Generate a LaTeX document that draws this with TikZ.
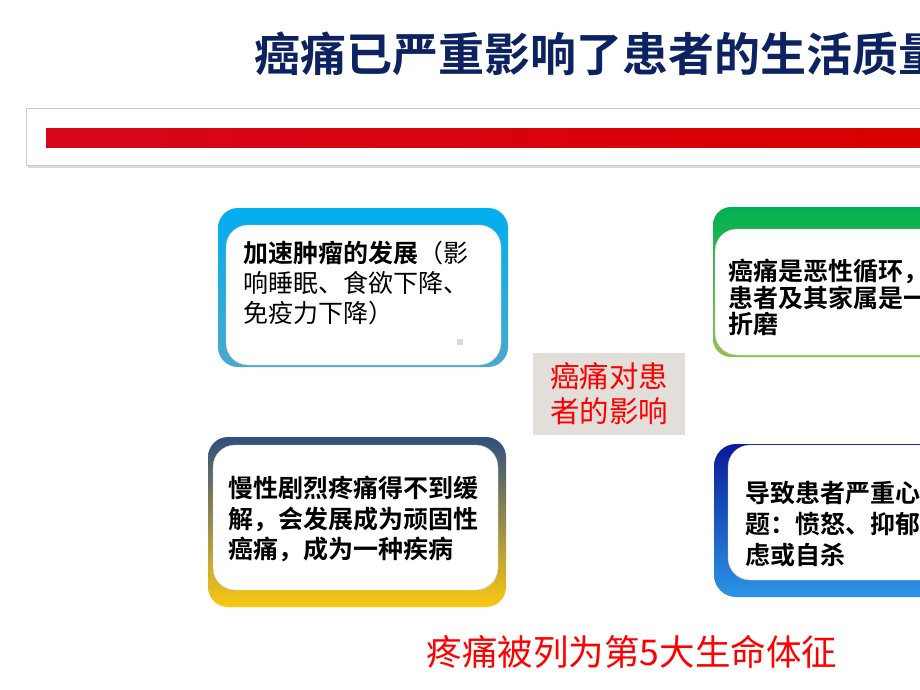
\documentclass[tikz,border=0pt]{standalone}
\usepackage{fontspec}
\setmainfont{Noto Sans CJK SC}[BoldFont={Noto Sans CJK SC Bold}]
\definecolor{titleblue}{HTML}{0D2361}
\definecolor{barred}{HTML}{D6061A}
\definecolor{labelgray}{HTML}{E2DED9}

\begin{document}
\begin{tikzpicture}[x=1pt,y=-1pt,
    boxtext/.style={anchor=north west, align=left, inner sep=0pt},
    card/.style={fill=white, draw=gray!45, rounded corners=22}]
    \useasboundingbox (0,0) rectangle (920,690);
    \clip (0,0) rectangle (920,690);

    % title and red bar
    \node[anchor=west, inner sep=0pt, text=titleblue, font=\fontsize{46}{50}\bfseries\selectfont] (title) at (254,54) {癌痛已严重影响了患者的生活质量};
    \fill[gray!30] (28,111) rectangle (930,168);
    \filldraw[fill=white, draw=gray!40] (26,108) rectangle (930,165);
    \shade[left color=barred, right color=red!85!black] (46,128) rectangle (930,147);

    % upper left
    \shade[top color={rgb,255:red,0;green,174;blue,239}, bottom color={rgb,255:red,75;green,168;blue,205}, rounded corners=20] (218,208) rectangle (508,367);
    \filldraw[card] (226,225) rectangle (501,365);
    \node[boxtext, font=\fontsize{25}{30}\selectfont] (speedup) at (243,241) {\textbf{加速肿瘤的发展}（影\\响睡眠、食欲下降、\\免疫力下降）};
    \fill[gray!30] (457,339) rectangle (463,345);

    % upper right
    \shade[top color={rgb,255:red,0;green,176;blue,80}, bottom color={rgb,255:red,146;green,192;blue,80}, rounded corners=18] (713,207) rectangle (960,357);
    \filldraw[card] (715,229) rectangle (960,355);
    \node[boxtext, font=\fontsize{25}{26.5}\bfseries\selectfont] (cycle) at (728,259) {癌痛是恶性循环，\\患者及其家属是一\\折磨};

    % lower left
    \shade[top color={rgb,255:red,47;green,79;blue,127}, middle color={rgb,255:red,201;green,164;blue,58}, bottom color={rgb,255:red,252;green,200;blue,18}, rounded corners=20] (208,437) rectangle (506,607);
    \filldraw[card] (213,445) rectangle (498,590);
    \node[boxtext, font=\fontsize{25}{30.5}\bfseries\selectfont] (chronic) at (228,476) {慢性剧烈疼痛得不到缓\\解，会发展成为顽固性\\癌痛，成为一种疾病};

    % lower right
    \shade[top color={rgb,255:red,10;green,26;blue,154}, bottom color={rgb,255:red,43;green,149;blue,229}, rounded corners=22] (714,444) rectangle (960,597);
    \filldraw[card] (728,445) rectangle (960,580);
    \node[boxtext, font=\fontsize{25}{31}\bfseries\selectfont] (mental) at (745,481) {导致患者严重心\\题：愤怒、抑郁\\虑或自杀};

    % centre label
    \fill[labelgray] (533,353) rectangle (685,435);
    \node[align=center, inner sep=0pt, text=red, font=\fontsize{29.5}{35}\selectfont] (impact) at (609,394) {癌痛对患\\者的影响};

    % bottom line
    \node[inner sep=0pt, text=red, font=\fontsize{35.5}{40}\selectfont] (vital) at (632,652) {疼痛被列为第5大生命体征};
    %\draw[help lines] (0,0) grid[step=50] (920,690);
\end{tikzpicture}
\end{document}
